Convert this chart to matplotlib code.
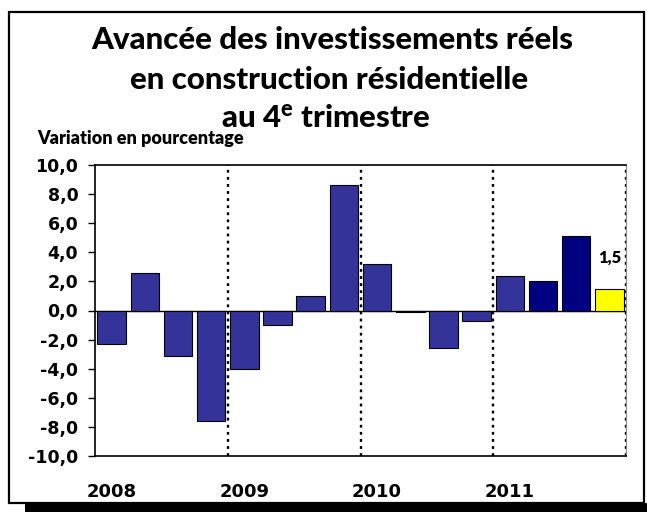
import matplotlib
matplotlib.use('Agg')
import matplotlib.pyplot as plt
from matplotlib.patches import Rectangle
from matplotlib.ticker import FuncFormatter

# données : variation trimestrielle en pourcentage, 2008T1 - 2011T4
trimestres = ['2008T1', '2008T2', '2008T3', '2008T4',
              '2009T1', '2009T2', '2009T3', '2009T4',
              '2010T1', '2010T2', '2010T3', '2010T4',
              '2011T1', '2011T2', '2011T3', '2011T4']
variation = [-2.3, 2.6, -3.1, -7.6,
             -4.0, -1.0, 1.0, 8.6,
             3.2, -0.1, -2.6, -0.7,
             2.4, 2.0, 5.1, 1.5]
annees = ['2008', '2009', '2010', '2011']
etiquette_derniere = '1,5'

couleurs = ['#333399'] * 13 + ['#000080', '#000080', '#ffff00']

plt.rcParams['font.family'] = ['Lato', 'DejaVu Sans']
plt.rcParams['mathtext.fontset'] = 'custom'
plt.rcParams['mathtext.rm'] = 'Lato:black'

fig = plt.figure(figsize=(6.47, 5.12), dpi=100)
W, H = 647, 512

# cadre avec ombre en bas
fig.patches.append(Rectangle((25 / W, 0), 1 - 25 / W, 9 / H, transform=fig.transFigure,
                             facecolor='black', edgecolor='none'))
fig.patches.append(Rectangle((9 / W, 1 - 503 / H), 635 / W, 491 / H, transform=fig.transFigure,
                             facecolor='none', edgecolor='black', linewidth=1.6))

ax = fig.add_axes([95 / W, 1 - 456 / H, 531 / W, 291 / H])
x = list(range(len(variation)))
ax.bar(x, variation, width=0.86, color=couleurs, edgecolor='black', linewidth=0.8, zorder=3)
ax.axhline(0, color='black', linewidth=1, zorder=2)

# séparateurs pointillés entre les années
for xs in [3.5, 7.5, 11.5, 15.5]:
    ax.axvline(xs, color='black', linestyle=(0, (1.2, 1.8)), linewidth=1.7, zorder=4)

ax.set_xlim(-0.5, 15.5)
ax.set_ylim(-10, 10)
ax.set_yticks(range(-10, 11, 2))
ax.yaxis.set_major_formatter(FuncFormatter(lambda v, p: ('%.1f' % v).replace('.', ',')))
ax.tick_params(axis='y', length=5, width=1, pad=7)
for lab in ax.get_yticklabels():
    lab.set_fontfamily('DejaVu Sans')
    lab.set_fontweight('bold')
    lab.set_fontsize(12.5)
ax.set_xticks([])
for s in ['left', 'bottom', 'top']:
    ax.spines[s].set_linewidth(1.2)
ax.spines['right'].set_color('#888888')

# années sous l'axe
for i, an in enumerate(annees):
    ax.text(i * 4, -41 / 291, an, transform=ax.get_xaxis_transform(),
            ha='center', va='baseline', fontsize=13, fontweight='bold',
            fontfamily='DejaVu Sans')

# étiquette du dernier trimestre
ax.text(15, variation[-1] + 2.1, etiquette_derniere, ha='center', va='center',
        fontsize=12, fontweight='heavy')

# titre
fig.text(332 / W, 1 - 49 / H, 'Avancée des investissements réels', ha='center', va='baseline',
         fontsize=22.5, fontweight='black')
fig.text(329 / W, 1 - 89 / H, 'en construction résidentielle', ha='center', va='baseline',
         fontsize=22.5, fontweight='black')
fig.text(326 / W, 1 - 128 / H, r'au 4$^{\mathrm{e}}$ trimestre', ha='center', va='baseline',
         fontsize=22.5, fontweight='black')
fig.text(37 / W, 1 - 144 / H, 'Variation en pourcentage', ha='left', va='baseline',
         fontsize=13, fontweight='heavy')

fig.savefig('out.png', dpi=100)
